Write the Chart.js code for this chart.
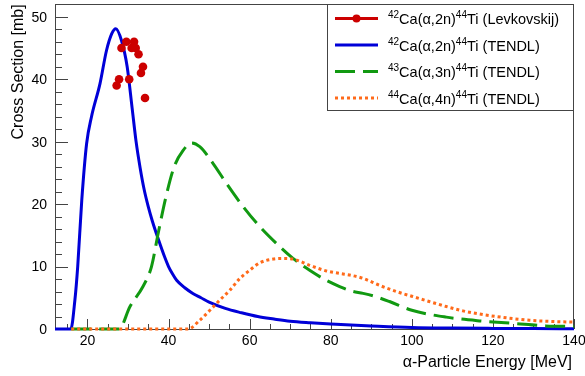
<!DOCTYPE html>
<html>
<head>
<meta charset="utf-8">
<script src="https://cdn.jsdelivr.net/npm/chart.js@4/dist/chart.umd.min.js"></script>
<style>
html,body{margin:0;padding:0;background:#fff;}
#c{display:block;}
</style>
</head>
<body>
<canvas id="c" width="585" height="376"></canvas>
<script>
// ---- data ----
const levkE = [27.2, 27.8, 28.4, 29.6, 30.3, 30.9, 31.5, 31.9, 32.6, 33.2, 33.7, 34.2];
const levkV = [39, 40, 45, 46, 40, 45, 46, 45, 44, 41, 42, 37];

const a2nE = [12, 15.9, 16.9, 17.6, 18.6, 19.8, 21.0, 23.1, 24.7, 26.0, 27.0, 28.4, 29.8, 31.0, 32.0, 33.0, 34.0, 35.0, 36.0, 37.0, 38.0, 39.0, 40.0, 41.0, 42.0, 44.0, 46.0, 48, 50, 54, 58, 62, 66, 70, 75, 80, 90, 100, 110, 120, 130, 140];
const a2nV = [0, 0, 4.6, 10.0, 20.6, 29.7, 34.0, 39.3, 44.6, 47.3, 48.1, 46.2, 42.0, 35.5, 30.0, 25.8, 22.3, 19.6, 17.3, 15.3, 13.4, 11.6, 10.0, 8.8, 7.8, 6.6, 5.7, 5.0, 4.3, 3.3, 2.6, 2.0, 1.6, 1.25, 1.0, 0.8, 0.5, 0.25, 0.15, 0.1, 0.07, 0.05];

const a3nE = [16, 27.8, 30.5, 33.7, 35.8, 37.5, 39.3, 41.4, 43.6, 45.7, 47.7, 51.0, 54.3, 58.4, 62.5, 66.6, 70.7, 74.8, 78.9, 82.2, 85, 88, 91, 94.5, 100, 108.5, 116.7, 125, 133, 140];
const a3nV = [0, 0, 3.6, 6.8, 10, 15.5, 21, 26, 28.6, 29.8, 29.2, 26.5, 23.3, 19.6, 16.4, 13.7, 11.3, 9.4, 7.8, 6.8, 6.1, 5.7, 5.2, 4.4, 3.0, 1.9, 1.3, 0.9, 0.5, 0.4];

const a4nE = [16, 44.8, 47.7, 50.2, 52.6, 55.1, 57.6, 60.0, 62.5, 65.8, 68.2, 70.7, 74.8, 78.9, 82.2, 85, 88, 92, 96.2, 100.2, 104.3, 108.5, 112.6, 116.7, 120.8, 129, 135, 140];
const a4nV = [0, 0, 1.4, 3.0, 4.6, 6.2, 8.1, 9.4, 10.6, 11.2, 11.3, 11.2, 10.2, 9.3, 8.9, 8.6, 8.1, 7.0, 6.0, 5.2, 4.4, 3.6, 2.9, 2.4, 2.0, 1.4, 1.2, 1.1];

const xTickLabels = [20, 40, 60, 80, 100, 120, 140];
const yTickLabels = [0, 10, 20, 30, 40, 50];

// legend names as rich text parts: [text, isSuperscript]
const nameLevk = [['42', 1], ['Ca(α,2n)', 0], ['44', 1], ['Ti (Levkovskij)', 0]];
const name2n = [['42', 1], ['Ca(α,2n)', 0], ['44', 1], ['Ti (TENDL)', 0]];
const name3n = [['43', 1], ['Ca(α,3n)', 0], ['44', 1], ['Ti (TENDL)', 0]];
const name4n = [['44', 1], ['Ca(α,4n)', 0], ['44', 1], ['Ti (TENDL)', 0]];

const xTitle = 'α-Particle Energy [MeV]';
const yTitle = 'Cross Section [mb]';

// ---- styles ----
const RED = '#cc0000', BLUE = '#0000d8', GREEN = '#119911', ORANGE = '#ff6a1a';
const FONT = '"Liberation Sans", Arial, Helvetica, sans-serif';

function pts(xs, ys) { return xs.map((v, i) => ({x: v, y: ys[i]})); }

const legendItems = [
  {name: nameLevk, color: RED, dash: [], marker: true},
  {name: name2n, color: BLUE, dash: []},
  {name: name3n, color: GREEN, dash: [20, 8]},
  {name: name4n, color: ORANGE, dash: [3, 3]},
];

function drawRich(ctx, parts, x, y) {
  let cx = x;
  ctx.textBaseline = 'alphabetic';
  ctx.textAlign = 'left';
  for (const [t, sup] of parts) {
    ctx.font = sup ? '10px ' + FONT : '14.5px ' + FONT;
    ctx.fillText(t, cx, sup ? y - 6 : y);
    cx += ctx.measureText(t).width;
  }
}

const rootPlugin = {
  id: 'rootAxes',
  beforeDatasetsDraw(chart) {
    const {ctx, chartArea: a, scales: {x, y}} = chart;
    ctx.save();
    ctx.strokeStyle = '#444';
    ctx.lineWidth = 1;
    ctx.strokeRect(Math.round(a.left) + 0.5, Math.round(a.top) + 0.5,
                   Math.round(a.right - a.left) - 1, Math.round(a.bottom - a.top));
    ctx.beginPath();
    for (let v = 15; v <= 140; v += 5) {
      const px = Math.round(x.getPixelForValue(v)) + 0.5;
      const len = (v % 20 === 0) ? 10 : 5;
      ctx.moveTo(px, a.bottom); ctx.lineTo(px, a.bottom - len);
    }
    for (let v = 0; v <= 52; v += 2) {
      const py = Math.round(y.getPixelForValue(v)) + 0.5;
      const len = (v % 10 === 0) ? 13 : 7;
      ctx.moveTo(a.left, py); ctx.lineTo(a.left + len, py);
    }
    ctx.stroke();

    ctx.fillStyle = '#000';
    ctx.font = '14px ' + FONT;
    ctx.textAlign = 'center';
    ctx.textBaseline = 'middle';
    for (const v of xTickLabels) ctx.fillText(String(v), x.getPixelForValue(v), a.bottom + 12);
    ctx.textAlign = 'right';
    for (const v of yTickLabels) ctx.fillText(String(v), a.left - 8, y.getPixelForValue(v) + 1);

    ctx.font = '16px ' + FONT;
    ctx.textAlign = 'right';
    ctx.textBaseline = 'alphabetic';
    ctx.fillText(xTitle, a.right - 2, 367);
    ctx.save();
    ctx.translate(23, a.top);
    ctx.rotate(-Math.PI / 2);
    ctx.textAlign = 'right';
    ctx.fillText(yTitle, 0, 0);
    ctx.restore();
    ctx.restore();
  },
  afterDatasetsDraw(chart) {
    const ctx = chart.ctx;
    ctx.save();
    const bx = 327, by = 4, bw = 246, bh = 106;
    ctx.fillStyle = '#fff';
    ctx.fillRect(bx, by, bw, bh);
    ctx.strokeStyle = '#444';
    ctx.lineWidth = 1;
    ctx.strokeRect(bx + 0.5, by + 0.5, bw, bh);
    const rows = [18.5, 45, 71.5, 98];
    legendItems.forEach((it, i) => {
      const yy = rows[i];
      ctx.strokeStyle = it.color;
      ctx.lineWidth = 3;
      ctx.setLineDash(it.dash);
      ctx.beginPath();
      ctx.moveTo(335, yy); ctx.lineTo(378, yy);
      ctx.stroke();
      ctx.setLineDash([]);
      if (it.marker) {
        ctx.fillStyle = it.color;
        ctx.beginPath(); ctx.arc(356.5, yy, 4, 0, Math.PI * 2); ctx.fill();
      }
      ctx.fillStyle = '#000';
      drawRich(ctx, it.name, 388, yy + 5.5);
    });
    ctx.restore();
  }
};

new Chart(document.getElementById('c'), {
  type: 'scatter',
  data: {
    datasets: [
      {label: 'Levkovskij', data: pts(levkE, levkV), showLine: false, pointRadius: 4.3,
       pointBackgroundColor: RED, pointBorderWidth: 0, order: 0},
      {label: '2n', data: pts(a2nE, a2nV), showLine: true, borderColor: BLUE, borderWidth: 3,
       pointRadius: 0, cubicInterpolationMode: 'monotone', clip: false, order: 3},
      {label: '3n', data: pts(a3nE, a3nV), showLine: true, borderColor: GREEN, borderWidth: 3,
       borderDash: [20, 8], pointRadius: 0, cubicInterpolationMode: 'monotone', clip: false, order: 2},
      {label: '4n', data: pts(a4nE, a4nV), showLine: true, borderColor: ORANGE, borderWidth: 3,
       borderDash: [3, 3], pointRadius: 0, cubicInterpolationMode: 'monotone', clip: false, order: 1},
    ]
  },
  options: {
    responsive: false,
    animation: false,
    devicePixelRatio: 1,
    layout: {padding: {left: 55, right: 11, top: 4, bottom: 47}},
    scales: {
      x: {type: 'linear', min: 12, max: 140, display: false},
      y: {type: 'linear', min: 0, max: 52, display: false}
    },
    plugins: {legend: {display: false}, tooltip: {enabled: false}}
  },
  plugins: [rootPlugin]
});
</script>
</body>
</html>
